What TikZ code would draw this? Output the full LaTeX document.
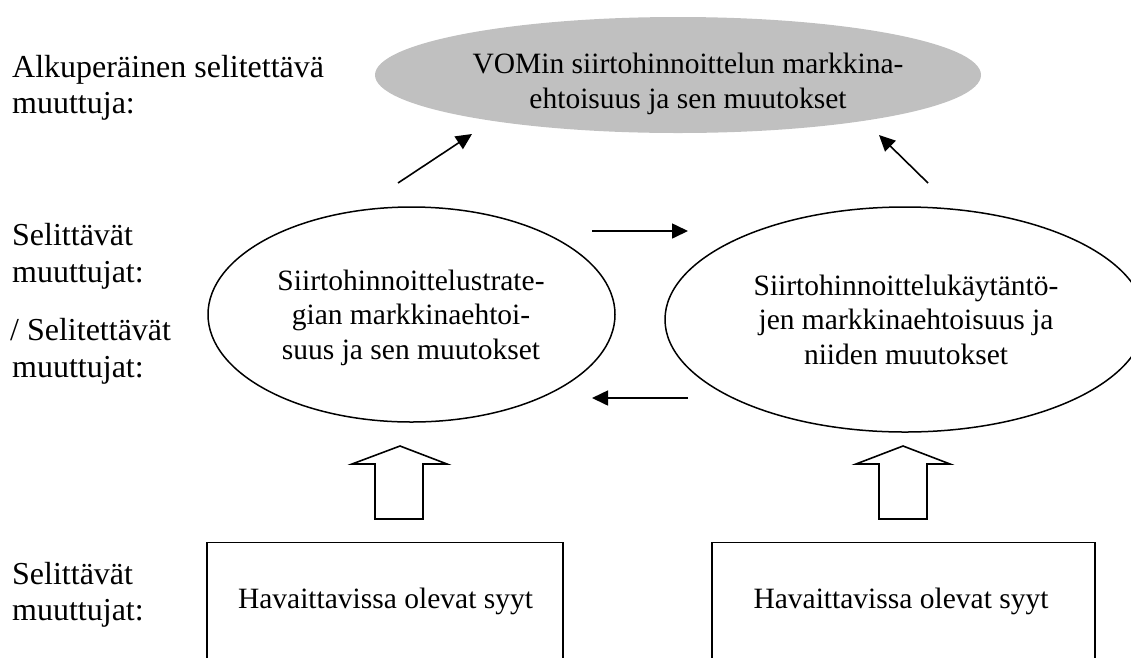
\documentclass[tikz,border=0pt]{standalone}
\usepackage{fontspec}
\setmainfont{Liberation Serif}
\usetikzlibrary{shapes.geometric,arrows.meta}
\definecolor{ellgray}{RGB}{192,192,192}
\tikzset{
  lab/.style={anchor=base west,inner sep=0pt,font=\fontsize{32}{38}\selectfont},
  dtxt/.style={anchor=base,inner sep=0pt,font=\fontsize{29.5}{35}\selectfont},
  oval/.style={ellipse,draw,line width=1.5pt,inner sep=0pt},
  thinarrow/.style={line width=1.6pt,-{Triangle[length=16pt,width=15pt]}},
  blockarrow/.style={draw,line width=1.6pt,line join=miter,fill=white},
  causebox/.style={rectangle,draw,line width=1.5pt,minimum width=#1,minimum height=140pt,inner sep=0pt}
}
\begin{document}
\begin{tikzpicture}[x=1pt,y=-1pt]
\useasboundingbox (0,0) rectangle (1131,657);
% left labels
\node[lab] (l1a) at (12,77) {Alkuperäinen selitettävä};
\node[lab] (l1b) at (12,113) {muuttuja:};
\node[lab] (l2a) at (12,245) {Selittävät};
\node[lab] (l2b) at (12,282) {muuttujat:};
\node[lab] (l3a) at (10,340) {/ Selitettävät};
\node[lab] (l3b) at (12,377) {muuttujat:};
\node[lab] (l4a) at (12,584) {Selittävät};
\node[lab] (l4b) at (12,620) {muuttujat:};
% top ellipse
\node[ellipse,fill=ellgray,draw=none,minimum width=606pt,minimum height=116pt] (top) at (678,75) {};
\node[dtxt] (topa) at (688,73) {VOMin siirtohinnoittelun markkina-};
\node[dtxt] (topb) at (688,108) {ehtoisuus ja sen muutokset};
% middle ellipses
\node[oval,minimum width=407pt,minimum height=215pt] (left) at (411.5,314.5) {};
\node[dtxt] (lefta) at (411,290) {Siirtohinnoittelustrate-};
\node[dtxt] (leftb) at (411,324.5) {gian markkinaehtoi-};
\node[dtxt] (leftc) at (411,359) {suus ja sen muutokset};
\node[oval,minimum width=480pt,minimum height=225pt] (right) at (905,319.5) {};
\node[dtxt] (righta) at (906,295) {Siirtohinnoittelukäytäntö-};
\node[dtxt] (rightb) at (906,329.5) {jen markkinaehtoisuus ja};
\node[dtxt] (rightc) at (906,364) {niiden muutokset};
% arrows
\coordinate (a1s) at (398,183); \coordinate (a1e) at (472,134);
\coordinate (a2s) at (928,183); \coordinate (a2e) at (879,135);
\coordinate (a3s) at (592,231); \coordinate (a3e) at (688,231);
\coordinate (a4s) at (688,398); \coordinate (a4e) at (592,398);
\draw[thinarrow] (a1s) -- (a1e);
\draw[thinarrow] (a2s) -- (a2e);
\draw[thinarrow] (a3s) -- (a3e);
\draw[thinarrow] (a4s) -- (a4e);
% block arrows
\draw[blockarrow] (400,446) -- (447,464) -- (423,464) -- (423,519) -- (375,519) -- (375,464) -- (352,464) -- cycle;
\draw[blockarrow] (903,446) -- (950,464) -- (927,464) -- (927,519) -- (879,519) -- (879,464) -- (856,464) -- cycle;
% cause boxes (open at the bottom edge of the picture)
\node[causebox=356pt] (box1) at (385,612.5) {};
\node[causebox=383pt] (box2) at (903.5,612.5) {};
\node[dtxt] (box1txt) at (385.5,608) {Havaittavissa olevat syyt};
\node[dtxt] (box2txt) at (901,608) {Havaittavissa olevat syyt};
\end{tikzpicture}
\end{document}
